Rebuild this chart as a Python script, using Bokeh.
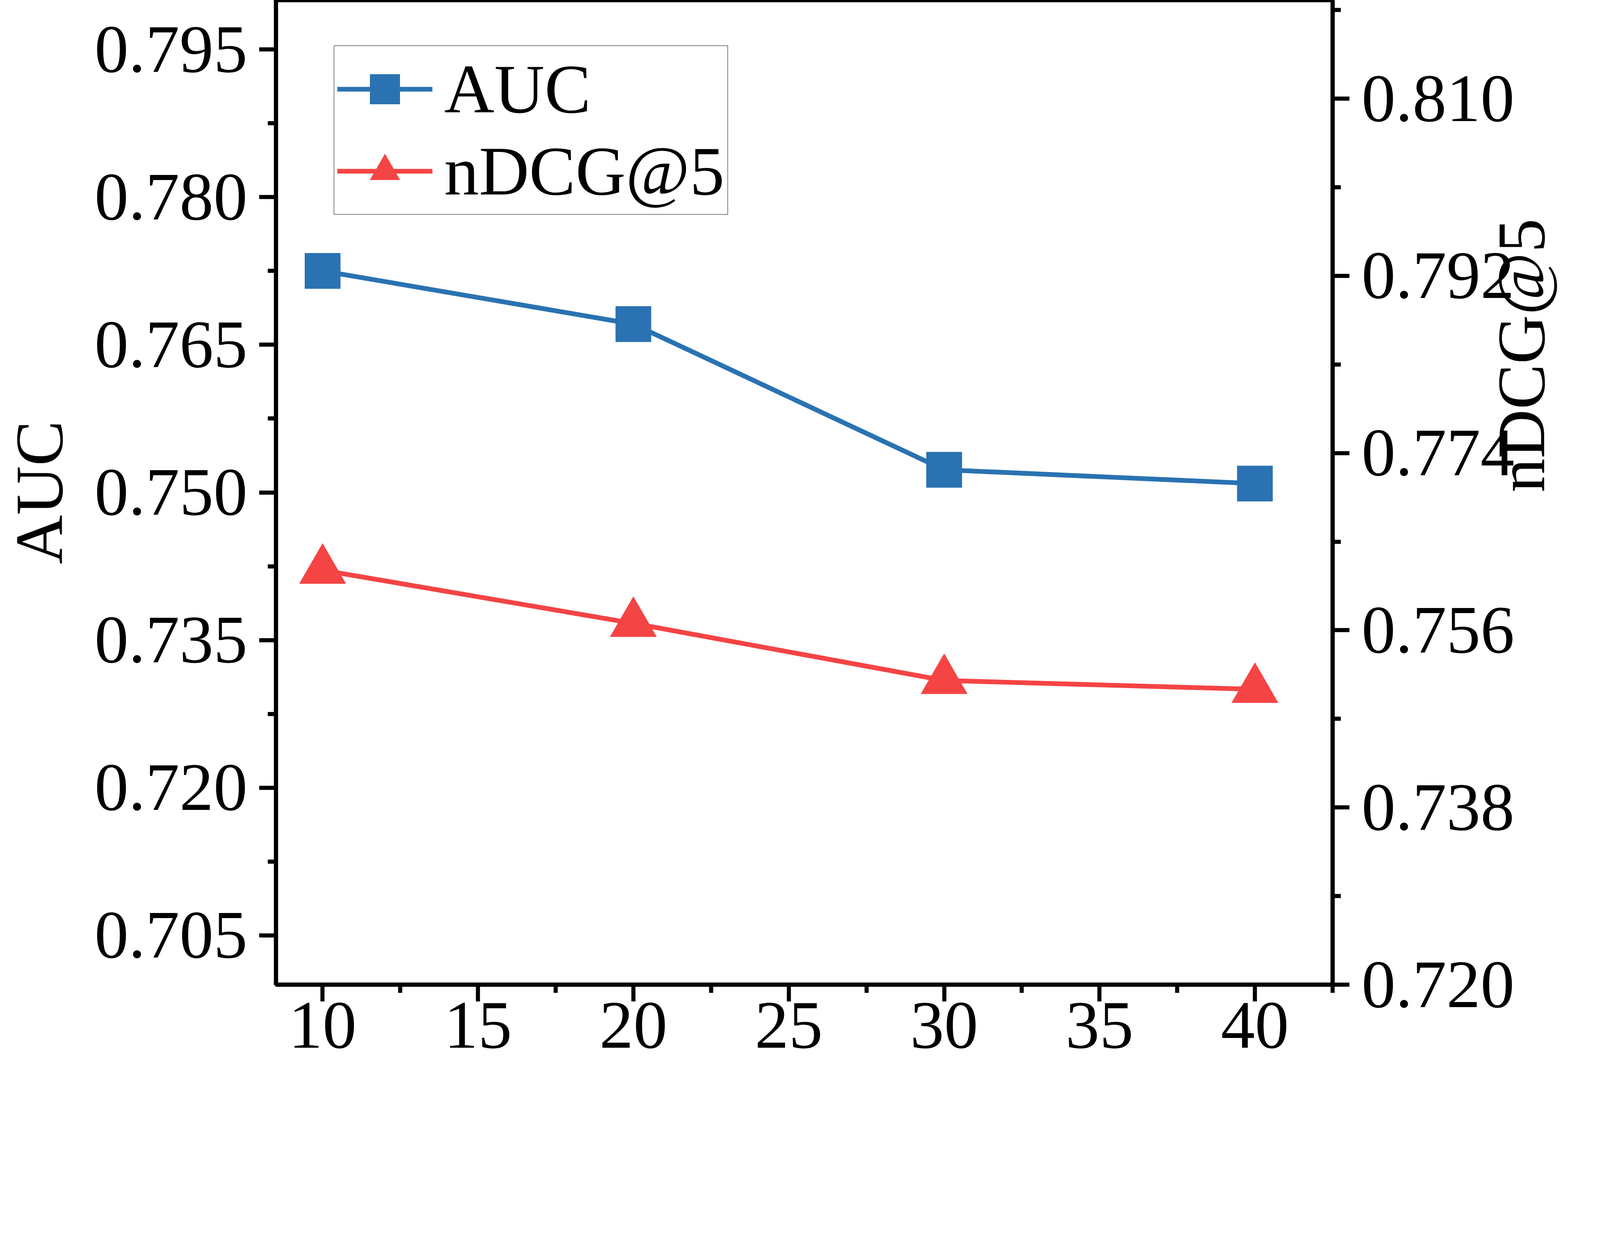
import math
from bokeh.plotting import figure
from bokeh.models import (Range1d, LinearAxis, FixedTicker, PrintfTickFormatter,
                          Legend, LegendItem)
from bokeh.embed import file_html
from bokeh.resources import INLINE

# ---------------- data ----------------
x_vals = [10, 20, 30, 40]
auc_vals = [0.7725, 0.7671, 0.7523, 0.7509]
ndcg_vals = [0.7621, 0.7567, 0.7509, 0.7500]

x_major = [10, 15, 20, 25, 30, 35, 40]
x_minor = [12.5, 17.5, 22.5, 27.5, 32.5, 37.5, 42.5]
auc_major = [0.705, 0.720, 0.735, 0.750, 0.765, 0.780, 0.795]
auc_minor = [0.7125, 0.7275, 0.7425, 0.7575, 0.7725, 0.7875]
ndcg_major = [0.720, 0.738, 0.756, 0.774, 0.792, 0.810]
ndcg_minor = [0.729, 0.747, 0.765, 0.783, 0.801, 0.819]

BLUE = "#2A72B2"
RED = "#F54444"
FONT = "Liberation Serif"

# ---------------- layout constants (page px) ----------------
K = 1 / 1.149          # page px per picture px
W, H = 4090, 2761
BL, BR, BT, BB = 700, 674, 0, 240
X0, X1 = 8.5, 42.5
Y0, Y1 = 0.700, 0.800


def px(v):
    return v * K


p = figure(width=W, height=H, output_backend="svg", toolbar_location=None,
           x_range=Range1d(X0, X1), y_range=Range1d(Y0, Y1),
           min_border_left=BL, min_border_right=BR,
           min_border_top=BT, min_border_bottom=BB)
p.extra_y_ranges = {"ndcg": Range1d(0.720, 0.820)}
p.xgrid.visible = False
p.ygrid.visible = False
p.outline_line_color = "black"
p.outline_line_width = px(12)

TICK_FONT = "%dpx" % round(px(200))


def style_axis(ax, major, minor, fmt):
    ax.ticker = FixedTicker(ticks=major, minor_ticks=minor)
    ax.formatter = PrintfTickFormatter(format=fmt)
    ax.axis_line_width = px(12)
    ax.axis_line_color = "black"
    ax.major_tick_line_width = px(12)
    ax.minor_tick_line_width = px(12)
    ax.major_tick_line_color = "black"
    ax.minor_tick_line_color = "black"
    ax.major_tick_in = 0
    ax.minor_tick_in = 0
    ax.major_tick_out = round(px(49))
    ax.minor_tick_out = round(px(24))
    ax.major_label_text_font = FONT
    ax.major_label_text_font_size = TICK_FONT
    ax.major_label_text_color = "black"
    ax.axis_label_text_font = FONT
    ax.axis_label_text_font_size = TICK_FONT
    ax.axis_label_text_color = "black"
    ax.axis_label_text_font_style = "normal"


style_axis(p.xaxis[0], x_major, x_minor, "%d")
p.xaxis[0].major_label_standoff = 4

style_axis(p.yaxis[0], auc_major, auc_minor, "%.3f")
p.yaxis[0].major_label_standoff = round(px(35))
p.yaxis[0].axis_label = "AUC"
p.yaxis[0].axis_label_standoff = 42

ax_r = LinearAxis(y_range_name="ndcg", axis_label="nDCG@5")
style_axis(ax_r, ndcg_major, ndcg_minor, "%.3f")
ax_r.major_label_standoff = round(px(36))
ax_r.axis_label_standoff = 14
try:
    ax_r.axis_label_orientation = math.pi / 2
except Exception:
    pass
p.add_layout(ax_r, "right")

# ---------------- series ----------------
l_auc = p.line(x_vals, auc_vals, line_color=BLUE, line_width=px(14))
l_ndcg = p.line(x_vals, ndcg_vals, line_color=RED, line_width=px(14),
                y_range_name="ndcg")
s_auc = p.scatter(x_vals, auc_vals, marker="square", size=px(104),
                  fill_color=BLUE, line_color=BLUE, line_width=1)
s_ndcg = p.scatter(x_vals, ndcg_vals, marker="triangle", size=px(136),
                   fill_color=RED, line_color=RED, line_width=1, y_range_name="ndcg")

legend = Legend(items=[LegendItem(label="AUC", renderers=[l_auc, s_auc]),
                       LegendItem(label="nDCG@5", renderers=[l_ndcg, s_ndcg])],
                location=(round(px(170)), round(px(2265))),
                glyph_width=round(px(280)), glyph_height=round(px(218)),
                label_text_font=FONT, label_text_font_size="%dpx" % round(px(205)),
                label_text_color="black",
                label_standoff=round(px(35)), padding=round(px(8)), spacing=round(px(5)),
                border_line_color="black", border_line_width=px(3),
                background_fill_color="white", background_fill_alpha=1.0)
p.add_layout(legend)

open("out.html", "w").write(file_html(p, INLINE))
